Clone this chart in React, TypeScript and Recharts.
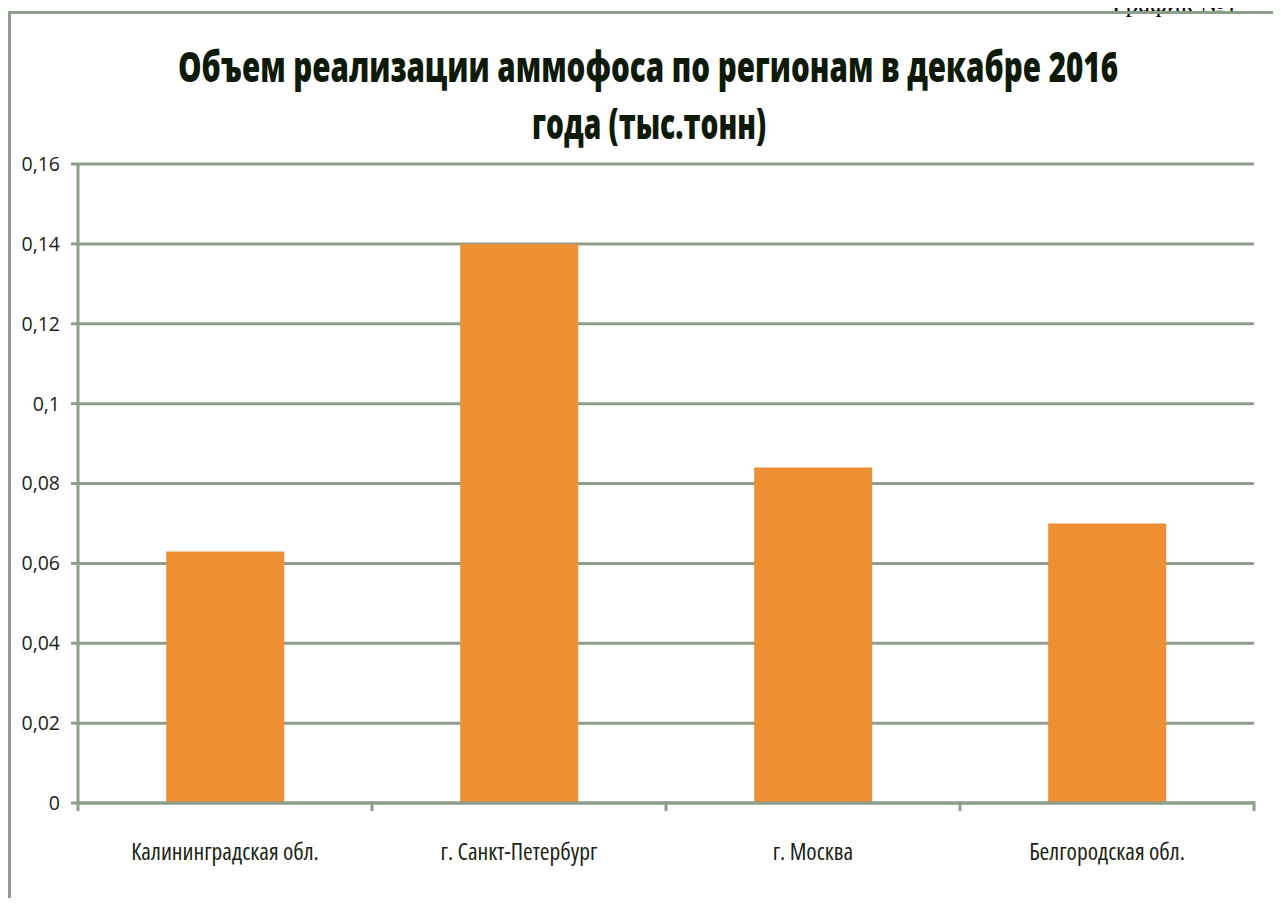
import { BarChart, Bar, XAxis, YAxis, CartesianGrid } from 'recharts';

const REGIONS = ['Калининградская обл.', 'г. Санкт-Петербург', 'г. Москва', 'Белгородская обл.'];
const VOLUMES = [0.063, 0.14, 0.084, 0.07];
const Y_TICKS = [0, 0.02, 0.04, 0.06, 0.08, 0.1, 0.12, 0.14, 0.16];

const TITLE_LINE_1 = 'Объем реализации аммофоса по регионам в декабре 2016';
const TITLE_LINE_2 = 'года (тыс.тонн)';

const GRID = '#8d9e8b';
const BAR = '#ed8f32';
const TEXT = '#1a2414';
const FONT = '"Open Sans", "Noto Sans", sans-serif';

const data = REGIONS.map((region, i) => ({ region, value: VOLUMES[i] }));

const fmt = (v: number) => String(v).replace('.', ',');

// category label in the middle, tick marks on the category boundaries
function RegionTick({ x, y, payload, index }: any) {
  const half = payload.offset ?? 0;
  const left = x - half;
  const right = x + half;
  return (
    <g>
      <line x1={left} y1={y - 42} x2={left} y2={y - 32} stroke={GRID} strokeWidth={3} />
      {index === REGIONS.length - 1 && (
        <line x1={right} y1={y - 42} x2={right} y2={y - 32} stroke={GRID} strokeWidth={3} />
      )}
      <text x={x} y={y} dy="0.71em" textAnchor="middle" fill={TEXT} fontSize={23.5}
        fontFamily={FONT} style={{ fontStretch: '75%' }}>
        {payload.value}
      </text>
    </g>
  );
}

export default function App() {
  return (
    <div style={{ position: 'relative', width: 1281, height: 906, margin: -8, overflow: 'hidden', background: '#fff' }}>
      {/* page caption, cut off by the top edge */}
      <div
        style={{
          position: 'absolute', left: 1112, top: -11, whiteSpace: 'nowrap', lineHeight: '30px',
          fontFamily: '"Liberation Serif", "Times New Roman", serif', fontSize: 26, color: '#000',
        }}
      >
        График №1
      </div>

      {/* chart frame */}
      <div style={{ position: 'absolute', left: 8, top: 11, width: 1320, height: 940, border: `3px solid ${GRID}` }} />

      <svg width={1281} height={160} style={{ position: 'absolute', left: 0, top: 0 }}>
        <text x={648} y={82} textAnchor="middle" fontFamily={FONT} fontWeight={800} fontSize={43} fill="#0d1a08"
          textLength={940} lengthAdjust="spacingAndGlyphs">
          {TITLE_LINE_1}
        </text>
        <text x={649} y={139} textAnchor="middle" fontFamily={FONT} fontWeight={800} fontSize={43} fill="#0d1a08"
          textLength={234} lengthAdjust="spacingAndGlyphs">
          {TITLE_LINE_2}
        </text>
      </svg>

      <div style={{ position: 'absolute', left: 0, top: 0 }}>
        <BarChart width={1281} height={906} data={data} barCategoryGap="30%"
          margin={{ top: 164, right: 27, bottom: 43, left: 0 }}>
          <CartesianGrid vertical={false} stroke={GRID} strokeWidth={3} />
          <XAxis dataKey="region" height={60} tickLine={false} tickSize={0} tickMargin={40}
            axisLine={{ stroke: GRID, strokeWidth: 3 }} tick={<RegionTick />} interval={0} />
          <YAxis width={78} domain={[0, 0.16]} ticks={Y_TICKS} tickFormatter={fmt}
            tickSize={7} tickMargin={11} interval={0}
            axisLine={{ stroke: GRID, strokeWidth: 3 }} tickLine={{ stroke: GRID, strokeWidth: 3 }}
            tick={{ fill: TEXT, fontSize: 19.5, fontFamily: FONT }} />
          <Bar dataKey="value" fill={BAR} isAnimationActive={false} />
        </BarChart>
      </div>
    </div>
  );
}
